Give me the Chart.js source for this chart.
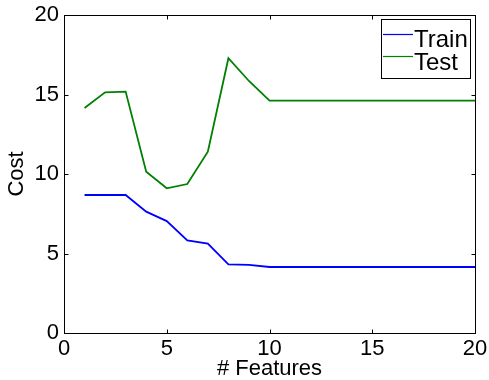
<!DOCTYPE html>
<html>
<head>
<meta charset="utf-8">
<script src="https://cdn.jsdelivr.net/npm/chart.js@4"></script>
<style>
html,body{margin:0;padding:0;background:#fff;}
#wrap{width:489px;height:380px;position:relative;}
</style>
</head>
<body>
<div id="wrap"><canvas id="c" width="489" height="380"></canvas></div>
<script>
const features = [1,2,3,4,5,6,7,8,9,10,11,12,13,14,15,16,17,18,19,20];
const trainCost = [8.68,8.68,8.68,7.63,7.04,5.83,5.62,4.32,4.28,4.15,4.15,4.15,4.15,4.15,4.15,4.15,4.15,4.15,4.15,4.15];
const testCost = [14.15,15.14,15.18,10.14,9.10,9.37,11.40,17.28,15.85,14.61,14.61,14.61,14.61,14.61,14.61,14.61,14.61,14.61,14.61,14.61];
const seriesNames = ['Train','Test'];
const xTicks = [0,5,10,15,20];
const yTicks = [0,5,10,15,20];

const FONT = 'Liberation Sans, Arial, sans-serif';

const framePlugin = {
  id: 'frame',
  afterDraw(chart) {
    const ctx = chart.ctx;
    const a = chart.chartArea;
    const xs = chart.scales.x, ys = chart.scales.y;
    ctx.save();
    ctx.strokeStyle = '#000';
    ctx.lineWidth = 1;
    const L = Math.round(a.left)+0.5, R = Math.round(a.right)+0.5, T = Math.round(a.top)+0.5, B = Math.round(a.bottom)+0.5;
    ctx.strokeRect(L, T, R-L, B-T);
    const tl = 4;
    ctx.beginPath();
    xTicks.forEach(v => {
      const px = Math.round(xs.getPixelForValue(v))+0.5;
      ctx.moveTo(px, B); ctx.lineTo(px, B-tl);
      ctx.moveTo(px, T); ctx.lineTo(px, T+tl);
    });
    yTicks.forEach(v => {
      const py = Math.round(ys.getPixelForValue(v))+0.5;
      ctx.moveTo(L, py); ctx.lineTo(L+tl, py);
      ctx.moveTo(R, py); ctx.lineTo(R-tl, py);
    });
    ctx.stroke();
    // legend
    const bx = 381.5, by = 19.5, bw = 89, bh = 59;
    ctx.fillStyle = '#fff';
    ctx.fillRect(bx, by, bw, bh);
    ctx.strokeRect(bx, by, bw, bh);
    ctx.font = '24px ' + FONT;
    ctx.textBaseline = 'alphabetic';
    ctx.textAlign = 'left';
    chart.data.datasets.forEach((ds, i) => {
      const ly = 34.5 + i * 22;
      const baseY = 46.7 + i * 23.3;
      ctx.strokeStyle = ds.borderColor;
      ctx.lineWidth = 1.2;
      ctx.beginPath();
      ctx.moveTo(383, ly); ctx.lineTo(413, ly);
      ctx.stroke();
      ctx.fillStyle = '#000';
      ctx.fillText(ds.label, 414, baseY);
    });
    ctx.restore();
  }
};

new Chart(document.getElementById('c'), {
  type: 'line',
  data: {
    datasets: [
      { label: seriesNames[0], data: features.map((x,i)=>({x, y: trainCost[i]})), borderColor: '#0000ff', borderWidth: 1.8, pointRadius: 0, tension: 0, fill: false },
      { label: seriesNames[1], data: features.map((x,i)=>({x, y: testCost[i]})), borderColor: '#008000', borderWidth: 1.8, pointRadius: 0, tension: 0, fill: false }
    ]
  },
  options: {
    responsive: false,
    animation: false,
    devicePixelRatio: 1,
    layout: { padding: { top: 15, right: 14, left: 0, bottom: 0 } },
    plugins: { legend: { display: false }, tooltip: { enabled: false } },
    scales: {
      x: {
        type: 'linear', min: 0, max: 20,
        afterBuildTicks: s => { s.ticks = xTicks.map(v => ({value: v})); },
        afterFit: s => { s.height = 47; s.paddingLeft = 0; s.paddingRight = 0; },
        grid: { display: false, drawTicks: false },
        border: { display: false },
        ticks: { color: '#000', font: { family: FONT, size: 22 }, padding: 3, maxRotation: 0 },
        title: { display: true, text: '# Features', color: '#000', font: { family: FONT, size: 22, lineHeight: 1.0 }, padding: { top: 0, bottom: 0 } }
      },
      y: {
        type: 'linear', min: 0, max: 20,
        afterBuildTicks: s => { s.ticks = yTicks.map(v => ({value: v})); },
        afterFit: s => { s.width = 64; s.paddingTop = 0; s.paddingBottom = 0; },
        grid: { display: false, drawTicks: false },
        border: { display: false },
        ticks: { color: '#000', font: { family: FONT, size: 22 }, padding: 5 },
        title: { display: true, text: 'Cost', color: '#000', font: { family: FONT, size: 22 }, padding: { top: 4, bottom: 0 } }
      }
    }
  },
  plugins: [framePlugin]
});
</script>
</body>
</html>
